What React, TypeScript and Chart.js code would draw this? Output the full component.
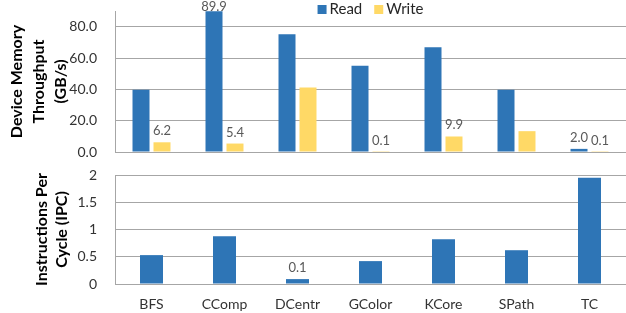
import React, { useEffect, useRef } from 'react';
import { Chart, registerables } from 'chart.js';

Chart.register(...registerables);

const categories = ['BFS', 'CComp', 'DCentr', 'GColor', 'KCore', 'SPath', 'TC'];
const readThroughput = [39.8, 89.9, 75.1, 55.0, 66.9, 39.8, 2.0];
const writeThroughput = [6.2, 5.4, 41.1, 0.1, 9.9, 13.3, 0.1];
const ipcValues = [0.53, 0.875, 0.09, 0.42, 0.82, 0.62, 1.95];
const readLabelShown = [false, true, false, false, false, false, true];
const writeLabelShown = [true, true, false, true, true, false, true];
const ipcLabelShown = [false, false, true, false, false, false, false];
const throughputTicks = [0, 20, 40, 60, 80];
const ipcTicks = [0, 0.5, 1, 1.5, 2];
const seriesNames = ['Read', 'Write'];

const BLUE = '#2E75B6';
const YELLOW = '#FFD966';
const GRID = '#A6A6A6';
const TICK = '#333333';
const FONT = 'Lato';

function valueLabelPlugin(id: string, shown: boolean[][]) {
  return {
    id,
    afterDatasetsDraw(chart: any) {
      const ctx = chart.ctx;
      ctx.save();
      ctx.font = `13px ${FONT}`;
      ctx.fillStyle = '#595959';
      ctx.textAlign = 'center';
      ctx.textBaseline = 'alphabetic';
      chart.data.datasets.forEach((ds: any, di: number) => {
        const meta = chart.getDatasetMeta(di);
        meta.data.forEach((bar: any, i: number) => {
          if (!shown[di] || !shown[di][i]) return;
          const { x, y } = bar.getProps(['x', 'y'], true);
          const ty = Math.max(y - 7, 11);
          ctx.fillText(Number(ds.data[i]).toFixed(1), x, ty);
        });
      });
      ctx.restore();
    },
  };
}

const legendPlugin = {
  id: 'customLegend',
  afterDraw(chart: any) {
    const ctx = chart.ctx;
    const area = chart.chartArea;
    ctx.save();
    ctx.font = `15px ${FONT}`;
    ctx.textBaseline = 'alphabetic';
    ctx.textAlign = 'left';
    const box = 9;
    const gap = 3;
    const spacing = 12;
    const items = chart.data.datasets.map((d: any) => ({ label: d.label, color: d.backgroundColor }));
    const widths = items.map((it: any) => ctx.measureText(it.label).width);
    let total = 0;
    widths.forEach((w: number) => (total += box + gap + w));
    total += spacing * (items.length - 1);
    let x = (area.left + area.right) / 2 - total / 2;
    items.forEach((it: any, i: number) => {
      ctx.fillStyle = it.color;
      ctx.fillRect(x, 5, box, box);
      ctx.fillStyle = '#262626';
      ctx.fillText(it.label, x + box + gap, 14);
      x += box + gap + widths[i] + spacing;
    });
    ctx.restore();
  },
};

const fitY = (scale: any) => {
  scale.width = 115;
  scale.paddingTop = 0;
  scale.paddingBottom = 0;
};

export default function App() {
  const topRef = useRef<HTMLCanvasElement>(null);
  const botRef = useRef<HTMLCanvasElement>(null);

  useEffect(() => {
    const top = new Chart(topRef.current as HTMLCanvasElement, {
      type: 'bar',
      data: {
        labels: categories,
        datasets: [
          { label: seriesNames[0], data: readThroughput, backgroundColor: BLUE, categoryPercentage: 0.575, barPercentage: 0.81 },
          { label: seriesNames[1], data: writeThroughput, backgroundColor: YELLOW, categoryPercentage: 0.575, barPercentage: 0.81 },
        ],
      },
      options: {
        animation: false,
        responsive: false,
        devicePixelRatio: 1,
        layout: { padding: { top: 11, bottom: 8, left: 0, right: 0 } },
        plugins: { legend: { display: false }, tooltip: { enabled: false } },
        scales: {
          x: { display: false },
          y: {
            min: 0,
            max: 90,
            afterBuildTicks: (axis: any) => {
              axis.ticks = throughputTicks.map((v) => ({ value: v }));
            },
            afterFit: fitY,
            grid: { color: GRID, lineWidth: 1, drawTicks: false },
            border: { display: true, color: GRID, width: 1 },
            ticks: {
              padding: 18,
              color: TICK,
              font: { family: FONT, size: 14 },
              callback: (v: any) => Number(v).toFixed(1),
            },
            title: {
              display: true,
              text: ['Device Memory', 'Throughput', '(GB/s)'],
              color: '#000',
              font: { family: FONT, size: 16, weight: 'bold', lineHeight: 1.375 },
              padding: { top: 6, bottom: 0 },
            },
          },
        },
      },
      plugins: [valueLabelPlugin('topLabels', [readLabelShown, writeLabelShown]), legendPlugin],
    } as any);

    const bot = new Chart(botRef.current as HTMLCanvasElement, {
      type: 'bar',
      data: {
        labels: categories,
        datasets: [
          { label: 'IPC', data: ipcValues, backgroundColor: BLUE, categoryPercentage: 1, barPercentage: 0.315 },
        ],
      },
      options: {
        animation: false,
        responsive: false,
        devicePixelRatio: 1,
        layout: { padding: { top: 15, bottom: 0, left: 0, right: 0 } },
        plugins: { legend: { display: false }, tooltip: { enabled: false } },
        scales: {
          x: {
            afterFit: (scale: any) => {
              scale.height = 29;
            },
            grid: { display: false, drawTicks: false },
            border: { display: false },
            ticks: { padding: 12, color: TICK, font: { family: FONT, size: 14 }, maxRotation: 0 },
          },
          y: {
            min: 0,
            max: 2,
            afterBuildTicks: (axis: any) => {
              axis.ticks = ipcTicks.map((v) => ({ value: v }));
            },
            afterFit: fitY,
            grid: { color: GRID, lineWidth: 1, drawTicks: false },
            border: { display: true, color: GRID, width: 1 },
            ticks: {
              padding: 18,
              color: TICK,
              font: { family: FONT, size: 14 },
              callback: (v: any) => String(v),
            },
            title: {
              display: true,
              text: ['Instructions Per', 'Cycle (IPC)'],
              color: '#000',
              font: { family: FONT, size: 16, weight: 'bold', lineHeight: 1.25 },
              padding: { top: 32, bottom: 0 },
            },
          },
        },
      },
      plugins: [valueLabelPlugin('botLabels', [ipcLabelShown])],
    } as any);

    return () => {
      top.destroy();
      bot.destroy();
    };
  }, []);

  return (
    <div style={{ position: 'fixed', left: 0, top: 0, width: 626, height: 313, background: '#fff' }}>
      <canvas ref={topRef} width={626} height={160} style={{ display: 'block', width: 626, height: 160 }} />
      <canvas ref={botRef} width={626} height={153} style={{ display: 'block', width: 626, height: 153 }} />
    </div>
  );
}
